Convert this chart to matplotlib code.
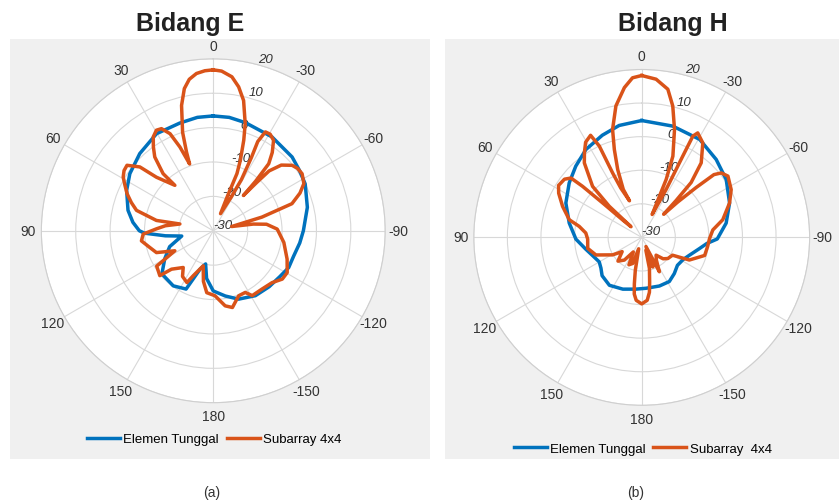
import numpy as np
import matplotlib
matplotlib.use("Agg")
import matplotlib.pyplot as plt
from matplotlib.patches import Rectangle

plt.rcParams['font.family'] = ['Liberation Sans', 'DejaVu Sans']

# ---- data (theta in degrees, gain in dB) ----
theta_labels = ['0', '30', '60', '90', '120', '150', '180',
                '-150', '-120', '-90', '-60', '-30']
r_ticks = [-30, -20, -10, 0, 10, 20]
legend_labels = ['Elemen Tunggal', 'Subarray 4x4']
legend_labels_h = ['Elemen Tunggal', 'Subarray  4x4']

# Bidang E - single element
e_single_theta = [0, 8, 17.3, 30.3, 43.6, 55.6, 65, 76.5, 84, 90, 92, 96, 99.5,
                  110, 120, 130, 144, 155, 161, 167, 172, 180, -169.5, -159.7,
                  -147, -135, -124.6, -116, -107.6, -98, -90, -76, -63, -55,
                  -46.9, -32, -16.6, -8, 0]
e_single_db = [3.4, 3.3, 2.8, 2.7, 1.0, -0.6, -2.2, -4.5, -6.5, -8.5, -10, -16,
               -20.7, -16.5, -13.7, -10.5, -10.2, -11.3, -18.2, -20.1, -16,
               -12.5, -10.7, -8.8, -7.5, -7, -6.5, -5.6, -5.5, -4.6, -3.8, -1.8,
               0, 0.6, 1.4, 2.2, 2.8, 3.3, 3.4]

# Bidang E - subarray 4x4
e_array_theta = [0, 3, 6.1, 9, 11.5, 14.2, 17.3, 18.8, 19.5, 21.7, 24, 26.9, 29.5,
                 32.6, 35.5, 38.4, 41.3, 40.2, 46.7, 49, 52.8, 56, 59.2, 62.5,
                 66.7, 71, 75.1, 79.7, 78.5, 84, 88, 92.7, 98, 104.7, 111, 117.5,
                 122, 130, 132.6, 140.7, 146, 153, 156, 164, 169, 174, -178.5,
                 -171, -166, -158.7, -152.6, -149, -140, -131.4, -125, -119.5,
                 -111, -99.4, -88.5, -83, -80.5, -77, -74.3, -71, -66.5, -62.5,
                 -57.3, -53.5, -50.3, -46, -43, -42, -40.5, -40.5, -39.6, -37,
                 -33.7, -30.5, -27.8, -26.5, -27.5, -28.8, -28, -23, -22.3,
                 -22.5, -21, -18.6, -16.6, -13.1, -10, -6.9, -3, 0]
e_array_db = [16.8, 16.6, 16.0, 14.6, 12.2, 7.6, 0, -5.9, -9.4, -3.8, 0.9, 3.3, 3.6,
              2.4, 0, -2.6, -7.9, -12.7, -7.3, -1.7, 1.5, 1.3, 0.5, -1, -2.7,
              -4.8, -6.9, -13.2, -20.1, -16, -13.5, -9.6, -8.9, -10.9, -12.3,
              -17.4, -10.6, -9.7, -13.5, -16.2, -14, -13.1, -15.7, -19.4, -15,
              -11.9, -11.1, -7.9, -7.0, -9.7, -9.8, -8.0, -7.9, -7.2, -5.5,
              -5.3, -7.0, -9.2, -11.4, -14.4, -18.2, -24.5, -15.3, -5.8, -2.5,
              -0.3, 0.7, 0.5, -0.2, -2.5, -6.2, -11, -16.5, -11, -4.7, -1.5,
              1.6, 2.6, 2.5, -1, -6, -13, -19, -24.6, -19.4, -12, -8, -2.2,
              2.5, 8.9, 12.5, 15.1, 16.5, 16.8]

# Bidang H - single element
h_single_theta = [0, 11.4, 21.1, 32.4, 42.8, 53.1, 65.6, 78.8, 91.5, 102, 111,
                  120, 127, 134, 146, 160, 173.6, -175, -160, -148, -138, -128,
                  -118, -110.3, -101, -95.3, -91.2, -80.4, -68.6, -55.6, -43.7,
                  -30.6, -15.6, 0]
h_single_db = [4.8, 4.0, 2.6, 1.0, -1.1, -3.0, -5.2, -8, -10.4, -13, -14.5,
               -15.4, -14.8, -13.6, -12.8, -13.6, -14.5, -14.8, -14.6, -14.5,
               -15.5, -16.5, -16, -14.8, -12.5, -10.5, -7.5, -4.5, -1.9, 0.5,
               2.1, 3.9, 4.4, 4.8]

# Bidang H - subarray 4x4
h_array_theta = [0, 3.3, 6.6, 11.1, 15.1, 17.3, 19.5, 21, 18.5, 23, 24.3, 24.9,
                 26.6, 30.5, 34, 37.6, 43.9, 46.2, 45, 47.5, 48.6, 49.2, 50, 53,
                 58, 62, 68.6, 76.3, 80, 85.5, 91.8, 101.5, 111, 121, 126, 135,
                 142.6, 150, 155, 161, 165, 169, 171, 172.5, 175, 180, -175,
                 -172, -170, -166, -162, -159.4, -155, -152.8, -147, -141, -135,
                 -129, -120, -115.4, -106, -98, -91, -84, -77.7, -68.6, -61.9,
                 -54.6, -51, -49, -47.5, -45.5, -43.5, -43, -42, -38.6, -32.9,
                 -28.2, -26.8, -26.8, -27, -24.5, -23.3, -22.9, -21, -16.9,
                 -13.3, -10, -5.2, 0]
h_array_db = [18.2, 17.6, 14.9, 9.9, 3.3, -2.6, -8.6, -14.7, -18.5, -14, -8.9,
              0, 4.0, 2.9, 0.5, -2, -8.9, -16.6, -25.5, -22.3, -14.5, -6.7,
              -2.5, -1.2, -0.8, -2, -4.7, -7.8, -11.1, -13.3, -13.9, -13.6,
              -15.4, -19.9, -22.8, -20, -21.5, -25, -21, -21.8, -26.5, -20, -16,
              -13, -11.2, -10.2, -11.2, -13.5, -16.4, -20.5, -26, -20.6, -27,
              -18.5, -22, -23.2, -21, -20, -19.4, -14.3, -10.5, -10.2, -9.8,
              -8.7, -5.3, -1.9, 0.2, 1.5, 0.5, -1.5, -8, -15, -20.5, -15, -8,
              -1.6, 3.5, 5.3, 3.8, -2.9, -14, -22.5, -16.7, -11.3, -4.1, 3.6,
              10.2, 14.8, 17.3, 18.2]

blue = '#0072BD'
red = '#D95319'
panel_grey = '#f0f0f0'

fig = plt.figure(figsize=(8.39, 5.02), dpi=100)
fig.patch.set_facecolor('white')

# grey panels behind each polar plot
fig.patches.append(Rectangle((0.012, 0.084), 0.501, 0.837, transform=fig.transFigure,
                             facecolor=panel_grey, edgecolor='none', zorder=-5))
fig.patches.append(Rectangle((0.530, 0.084), 0.470, 0.837, transform=fig.transFigure,
                             facecolor=panel_grey, edgecolor='none', zorder=-5))


def polar_panel(rect, single_t, single_db, array_t, array_db, labels, leg_anchor):
    ax = fig.add_axes(rect, projection='polar')
    ax.set_facecolor('white')
    ax.set_theta_zero_location('N')
    ax.set_theta_direction(1)
    ax.plot(np.deg2rad(single_t), single_db, color=blue, lw=2.5, label=labels[0])
    ax.plot(np.deg2rad(array_t), array_db, color=red, lw=2.5, label=labels[1])
    ax.set_rlim(-30, 20)
    ax.set_thetagrids(np.arange(0, 360, 30), labels=theta_labels)
    ax.set_rticks(r_ticks)
    ax.set_yticklabels([str(v) for v in r_ticks], fontsize=9.5,
                       fontstyle='italic', color='#333333')
    ax.set_rlabel_position(-15)
    ax.tick_params(axis='x', labelsize=10, labelcolor='#333333', pad=-1)
    ax.grid(color='#d8d8d8', lw=0.8)
    ax.spines['polar'].set_color('#cfcfcf')
    fig.legend(handles=ax.get_lines(), labels=labels, loc='center',
               bbox_to_anchor=leg_anchor, ncol=2, frameon=False, fontsize=9.5,
               handlelength=2.5, handletextpad=0.25, columnspacing=0.6)
    return ax


polar_panel([0.0492, 0.1958, 0.41, 0.685], e_single_theta, e_single_db,
            e_array_theta, e_array_db, legend_labels, (0.255, 0.1235))
polar_panel([0.5646, 0.1906, 0.4005, 0.669], h_single_theta, h_single_db,
            h_array_theta, h_array_db, legend_labels_h, (0.766, 0.104))

fig.text(0.2265, 0.952, 'Bidang E', ha='center', va='center', fontsize=18,
         fontweight='bold', color='#222222')
fig.text(0.802, 0.952, 'Bidang H', ha='center', va='center', fontsize=18,
         fontweight='bold', color='#222222')
fig.text(0.2527, 0.018, '(a)', ha='center', va='center', fontsize=10, color='#333333')
fig.text(0.758, 0.018, '(b)', ha='center', va='center', fontsize=10, color='#333333')

plt.savefig('out.png', dpi=100)
